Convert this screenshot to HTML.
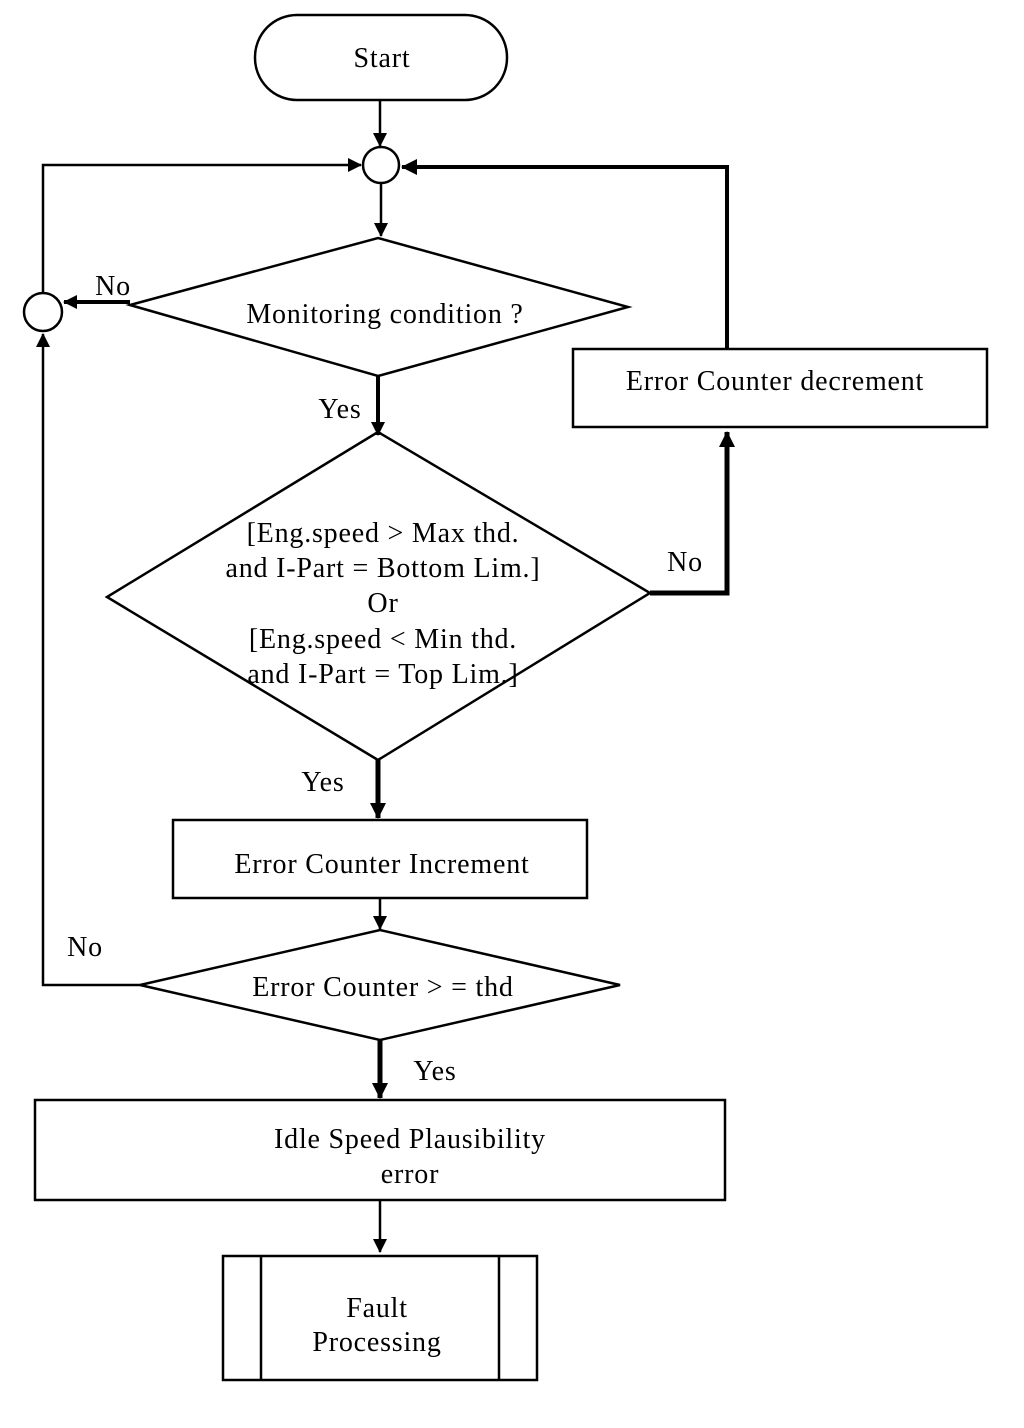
<!DOCTYPE html>
<html><head><meta charset="utf-8"><style>
html,body{margin:0;padding:0;background:#fff}
svg{display:block}
text{font-family:"Liberation Serif",serif;font-size:28px;letter-spacing:0.8px;fill:#000;text-anchor:middle}
</style></head><body>
<svg width="1024" height="1428" viewBox="0 0 1024 1428" xmlns="http://www.w3.org/2000/svg">
<defs>
<marker id="a" markerWidth="14" markerHeight="14" refX="13" refY="7" orient="auto" markerUnits="userSpaceOnUse" viewBox="0 0 14 14"><path d="M0,0 L14,7 L0,14 z" fill="#000"/></marker>
<marker id="b" markerWidth="16" markerHeight="16" refX="15" refY="8" orient="auto" markerUnits="userSpaceOnUse" viewBox="0 0 16 16"><path d="M0,0 L16,8 L0,16 z" fill="#000"/></marker>
</defs>
<g fill="none" stroke="#000" stroke-width="2.5">
<rect x="255" y="15" width="252" height="85" rx="42"/>
<line x1="380" y1="100" x2="380" y2="146" marker-end="url(#a)"/>
<circle cx="381" cy="165" r="18"/>
<line x1="381" y1="183" x2="381" y2="236" marker-end="url(#a)"/>
<polyline points="43,293 43,165 361,165" marker-end="url(#a)"/>
<circle cx="43" cy="312" r="19"/>
<polyline points="140,985 43,985 43,334" marker-end="url(#a)"/>
<line x1="130" y1="302" x2="64" y2="302" stroke-width="4" marker-end="url(#a)"/>
<polygon points="130,305 378,238 628,307 378,376"/>
<line x1="378" y1="376" x2="378" y2="435" stroke-width="4" marker-end="url(#a)"/>
<polygon points="378,432 650,593 378,760 107,597"/>
<polyline points="650,593 727,593 727,432" stroke-width="5" marker-end="url(#b)"/>
<rect x="573" y="349" width="414" height="78"/>
<polyline points="727,349 727,167 402,167" stroke-width="4" marker-end="url(#b)"/>
<line x1="378" y1="760" x2="378" y2="818" stroke-width="5" marker-end="url(#b)"/>
<rect x="173" y="820" width="414" height="78"/>
<line x1="380" y1="898" x2="380" y2="929" marker-end="url(#a)"/>
<polygon points="380,930 620,985 380,1040 140,985"/>
<line x1="380" y1="1040" x2="380" y2="1098" stroke-width="5" marker-end="url(#b)"/>
<rect x="35" y="1100" width="690" height="100"/>
<line x1="380" y1="1200" x2="380" y2="1252" marker-end="url(#a)"/>
<rect x="223" y="1256" width="314" height="124"/>
<line x1="261" y1="1256" x2="261" y2="1380"/>
<line x1="499" y1="1256" x2="499" y2="1380"/>
</g>
<text x="385" y="323">Monitoring condition ?</text>
<text x="382" y="67">Start</text>
<text x="113" y="295">No</text>
<text x="340" y="418">Yes</text>
<text x="383" y="542">[Eng.speed &gt; Max thd.</text>
<text x="383" y="577">and I-Part = Bottom Lim.]</text>
<text x="383" y="612">Or</text>
<text x="383" y="648">[Eng.speed &lt; Min thd.</text>
<text x="383" y="683">and I-Part = Top Lim.]</text>
<text x="685" y="571">No</text>
<text x="775" y="390">Error Counter decrement</text>
<text x="323" y="791">Yes</text>
<text x="382" y="873">Error Counter Increment</text>
<text x="383" y="996">Error Counter &gt; = thd</text>
<text x="85" y="956">No</text>
<text x="435" y="1080">Yes</text>
<text x="410" y="1148">Idle Speed Plausibility</text>
<text x="410" y="1183">error</text>
<text x="377" y="1317">Fault</text>
<text x="377" y="1351">Processing</text>
</svg>
</body></html>
